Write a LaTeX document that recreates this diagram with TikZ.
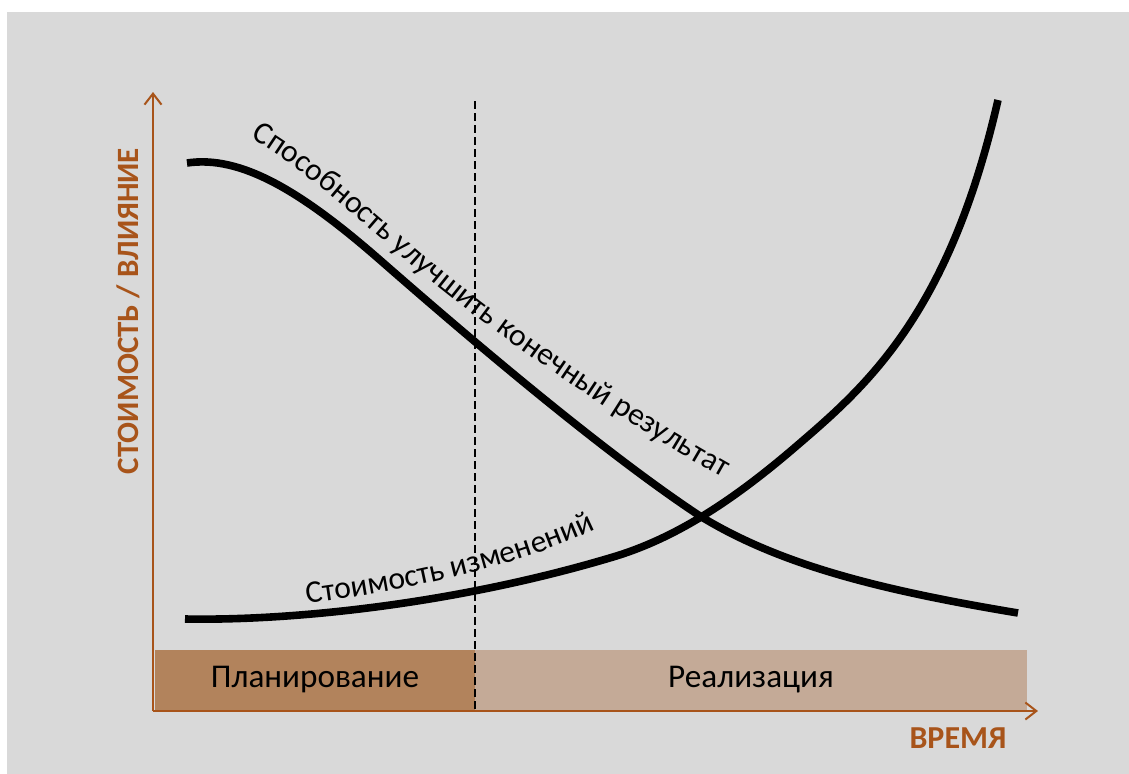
\documentclass[tikz,border=0pt]{standalone}
\usepackage{fontspec}
\setmainfont{Carlito}
\usetikzlibrary{arrows.meta,decorations.text}
\definecolor{bggray}{RGB}{217,217,217}
\definecolor{axisbrown}{RGB}{168,84,26}
\definecolor{planbrown}{RGB}{178,131,92}
\definecolor{realbrown}{RGB}{196,170,151}
\newcommand\curvefont{\fontsize{7.9}{9}\selectfont}

\begin{document}
\begin{tikzpicture}
        [x=0.25pt, y=-0.25pt,
        axisline/.style={axisbrown, line width=0.5pt, -{Straight Barb[length=2.75pt, width=4.25pt, line width=0.5pt]}},
        curve/.style={black, line width=1.9pt},
        phase/.style={inner sep=0pt, minimum height=15pt, font=\fontsize{8.3}{9}\selectfont},
        axistext/.style={axisbrown, inner sep=0pt},
        curvetext/.style={decorate, decoration={text along path, text align=center}}]

        \useasboundingbox (0,0) rectangle (1129,774);
        \fill[bggray] (7,12) rectangle (1129,774);

        % phase bars
        \node[phase, fill=planbrown, minimum width=80pt] (plan) at (315,680) {Планирование};
        \node[phase, fill=realbrown, minimum width=138pt] (real) at (751,680) {Реализация};

        % dashed border between phases
        \coordinate (dtop) at (475,101);
        \coordinate (dbot) at (475,710);
        \draw[black, line width=0.5pt, dash pattern=on 2pt off 1pt] (dtop) -- (dbot);

        % axes
        \coordinate (O) at (153,711);
        \coordinate (ytip) at (153,92);
        \coordinate (xtip) at (1038,711);
        \draw[axisline] (O) -- (ytip);
        \draw[axisline] (O) -- (xtip);
        \node[axistext, rotate=90, font=\bfseries\fontsize{7.75}{9}\selectfont] (cost) at (128,311) {СТОИМОСТЬ / ВЛИЯНИЕ};
        \node[axistext, font=\bfseries\fontsize{8}{9}\selectfont] (time) at (958,738) {ВРЕМЯ};

        % ability curve
        \draw[curve] (187,163) .. controls (240,155) and (300,190) .. (380,260)
            .. controls (460,330) and (600,450) .. (700,516)
            .. controls (780,565) and (880,590) .. (1018,613);

        % cost curve
        \draw[curve] (185,619) .. controls (300,621) and (463,602) .. (613,557)
            .. controls (680,537) and (740,495) .. (800,443)
            .. controls (870,383) and (950,310) .. (998,100);

        % texts along the curves
        \path[curvetext, decoration={text={|\curvefont|Способность улучшить конечный результат}}]
            (240,131) .. controls (300,166) and (330,195) .. (420,272)
            .. controls (520,355) and (640,432) .. (734,484);
        \path[curvetext, decoration={text={|\curvefont|Стоимость изменений}}]
            (298,605) .. controls (400,592) and (520,568) .. (604,525);

    \end{tikzpicture}
\end{document}
